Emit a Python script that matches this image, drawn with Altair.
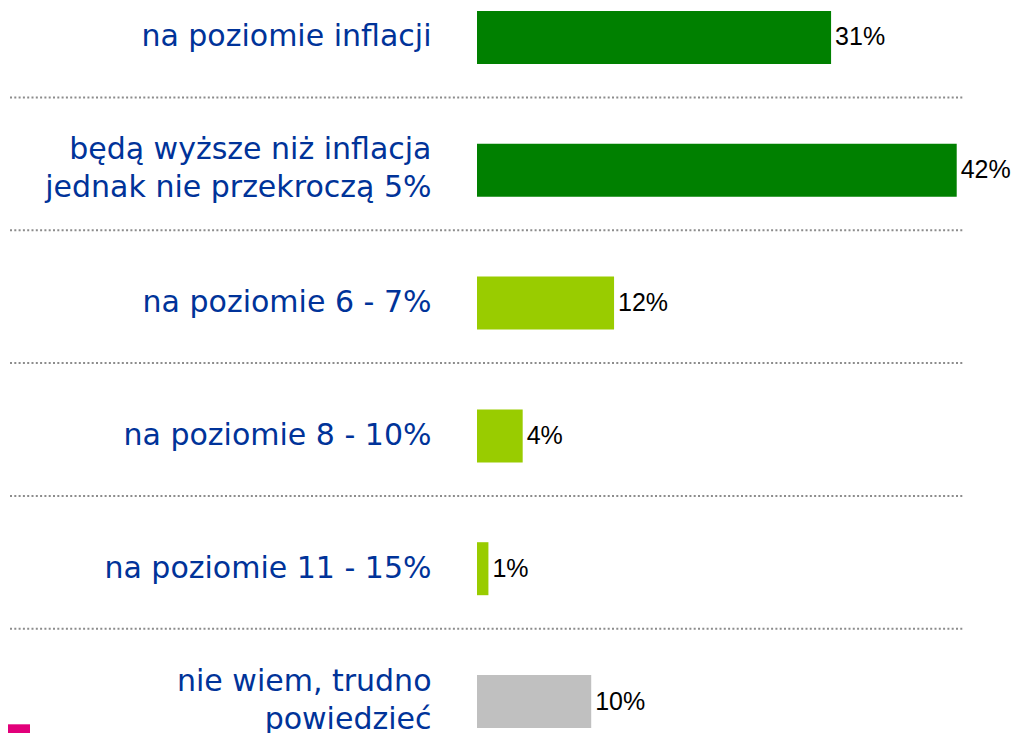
import altair as alt
import pandas as pd

categories = [
    "na poziomie inflacji",
    "będą wyższe niż inflacja\njednak nie przekroczą 5%",
    "na poziomie 6 - 7%",
    "na poziomie 8 - 10%",
    "na poziomie 11 - 15%",
    "nie wiem, trudno\npowiedzieć",
]
values = [31, 42, 12, 4, 1, 10]
colors = ["#008000", "#008000", "#99CC00", "#99CC00", "#99CC00", "#C0C0C0"]
value_labels = ["31%", "42%", "12%", "4%", "1%", "10%"]

df = pd.DataFrame({
    "cat": categories,
    "value": values,
    "color": colors,
    "label": value_labels,
})
sep_df = pd.DataFrame({"cat": categories[1:]})

y_scale = alt.Scale(domain=categories, paddingInner=0.601, paddingOuter=0)
x_scale = alt.Scale(domain=[0, 42.55], nice=False, zero=True)

bars = alt.Chart(df).mark_bar().encode(
    y=alt.Y("cat:N", scale=y_scale, sort=categories, title=None,
            axis=alt.Axis(
                labelExpr="split(datum.label, '\\n')",
                labelFont="DejaVu Sans",
                labelFontSize=30,
                labelColor="#003399",
                labelLineHeight=38,
                labelPadding=46,
                labelLimit=1000,
                labelOffset={"condition": {"test": "indexof(datum.value, '\\n') >= 0",
                                           "value": -20},
                             "value": 0},
                domain=False,
                ticks=False,
                grid=False,
            )),
    x=alt.X("value:Q", scale=x_scale, axis=None),
    color=alt.Color("color:N", scale=None),
)

texts = alt.Chart(df).mark_text(
    align="left", baseline="middle", dx=4,
    font="Liberation Sans", fontSize=25, color="#000000",
).encode(
    y=alt.Y("cat:N", scale=y_scale, sort=categories),
    x=alt.X("value:Q", scale=x_scale),
    text="label:N",
)

seps = alt.Chart(sep_df).mark_rule(
    color="#8C8C8C", strokeWidth=2, strokeDash=[2, 2.3], yOffset=-72.8,
).encode(
    y=alt.Y("cat:N", scale=y_scale, sort=categories, bandPosition=0.5),
    x=alt.value(-467),
    x2=alt.value(486),
)

logo = alt.Chart(pd.DataFrame({"a": [0]})).mark_rect(color="#E2007A").encode(
    x=alt.value(-469), x2=alt.value(-447),
    y=alt.value(713.3), y2=alt.value(730),
)

chart = alt.layer(seps, bars, texts, logo).properties(
    width=486, height=717,
    autosize=alt.AutoSizeParams(type="none"),
    padding={"left": 469, "top": 3, "right": 48, "bottom": 12},
).configure_view(stroke=None)

chart.save("out.html", embed_options={"renderer": "svg", "actions": False})
